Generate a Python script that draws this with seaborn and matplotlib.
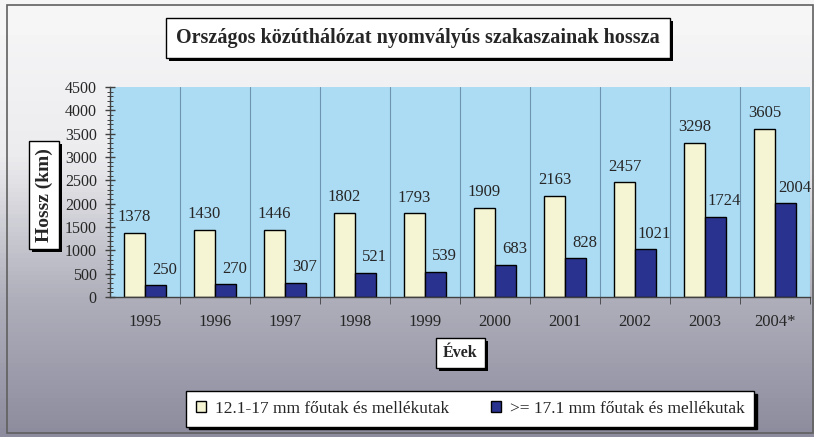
import numpy as np
import pandas as pd
import matplotlib
import matplotlib.pyplot as plt
from matplotlib.colors import LinearSegmentedColormap
from matplotlib.patches import Rectangle
from matplotlib.ticker import MultipleLocator
import seaborn as sns

# -----------------------------
# Data
# -----------------------------
years = ["1995", "1996", "1997", "1998", "1999", "2000", "2001", "2002", "2003", "2004*"]
sekely = [1378, 1430, 1446, 1802, 1793, 1909, 2163, 2457, 3298, 3605]
mely = [250, 270, 307, 521, 539, 683, 828, 1021, 1724, 2004]
series = ["12.1-17 mm főutak és mellékutak", ">= 17.1 mm főutak és mellékutak"]

title = "Országos közúthálózat nyomvályús szakaszainak hossza"
ylabel = "Hossz (km)"
xlabel = "Évek"

df = pd.DataFrame({
    "ev": years * 2,
    "hossz": sekely + mely,
    "kat": [series[0]] * len(years) + [series[1]] * len(years),
})

# -----------------------------
# Style
# -----------------------------
sns.set_style("white")
plt.rcParams["font.family"] = ["Liberation Serif", "DejaVu Serif"]

W, H = 814, 437
fig = plt.figure(figsize=(W / 100, H / 100), dpi=100)

# gradient background
bg = fig.add_axes([0, 0, 1, 1], zorder=-5)
grad = LinearSegmentedColormap.from_list("bg", ["#f6f6f7", "#ececef", "#b0b0bc", "#8c8c9e"])
vals = np.concatenate([np.zeros(8), np.linspace(0.05, 1, 92)])[:, None]
bg.imshow(vals, cmap=grad, aspect="auto", extent=[0, 1, 0, 1], vmin=0, vmax=1)
bg.set_axis_off()
fig.patches.append(Rectangle((7 / W, 4 / H), 806 / W, 428 / H, transform=fig.transFigure,
                             fill=False, ec="#606060", lw=1.2))

ax = fig.add_axes([110 / W, 1 - 297 / H, 700 / W, 210 / H])
ax.set_facecolor("#acdcf4")

sns.barplot(data=df, x="ev", y="hossz", hue="kat", palette=["#f5f5d3", "#29338f"],
            width=0.6, saturation=1, edgecolor="black", linewidth=1, ax=ax)

# value labels
for k, cont in enumerate(ax.containers):
    values = sekely if k == 0 else mely
    dx = 0 if k == 0 else 6.5
    for patch, v in zip(cont.patches, values):
        ax.annotate(str(v), (patch.get_x() + patch.get_width() / 2, v),
                    xytext=(dx, 8.5), textcoords="offset points",
                    ha="center", va="baseline", fontsize=12)

ax.set_xlim(-0.5, len(years) - 0.5)
ax.set_ylim(0, 4500)
ax.yaxis.set_major_locator(MultipleLocator(500))
ax.yaxis.set_minor_locator(MultipleLocator(100))
ax.set_xticks(np.arange(len(years)) + 0.5, minor=True)
ax.grid(which="minor", axis="x", color="#6d94b0", lw=0.8)
ax.grid(which="major", axis="both", visible=False)
ax.tick_params(axis="y", which="major", direction="inout", length=7, width=1,
               color="#404040", labelsize=11.5, pad=6, left=True)
ax.tick_params(axis="y", which="minor", direction="inout", length=4, width=0.7,
               color="#404040", left=True)
ax.tick_params(axis="x", which="major", length=0, labelsize=12, pad=12)
ax.tick_params(axis="x", which="minor", direction="out", length=5, color="#404040", bottom=True)
for s in ["top", "right"]:
    ax.spines[s].set_visible(False)
for s in ["left", "bottom"]:
    ax.spines[s].set_color("#404040")
    ax.spines[s].set_linewidth(1)
ax.set_xlabel("")
ax.set_ylabel("")

# boxed texts with drop shadow
boxes = []
boxes.append(fig.text(418 / W, 1 - 38 / H, title, fontsize=14.5, fontweight="bold",
                      ha="center", va="center",
                      bbox=dict(boxstyle="square,pad=0.5", fc="white", ec="black", lw=1)))
boxes.append(fig.text(44 / W, 1 - 195 / H, ylabel, fontsize=14, fontweight="bold",
                      ha="center", va="center", rotation=90,
                      bbox=dict(boxstyle="square,pad=0.35", fc="white", ec="black", lw=1)))
boxes.append(fig.text(460 / W, 1 - 353 / H, xlabel, fontsize=11.5, fontweight="bold",
                      ha="center", va="center",
                      bbox=dict(boxstyle="square,pad=0.45", fc="white", ec="black", lw=1)))

sns.move_legend(ax, "center", bbox_to_anchor=(470 / W, 1 - 409 / H),
                bbox_transform=fig.transFigure, ncol=2, title=None, frameon=True,
                fancybox=False, shadow={"color": "black", "alpha": 1},
                edgecolor="black", framealpha=1, fontsize=12.5,
                handlelength=0.6, handleheight=0.6, handletextpad=0.5,
                columnspacing=2.4, borderpad=0.55)
leg = ax.get_legend()
leg.get_frame().set_linewidth(1)

fig.canvas.draw()
for t in boxes:
    bb = t.get_bbox_patch().get_window_extent()
    fig.patches.append(Rectangle((bb.x0 + 3, bb.y0 - 3), bb.width, bb.height,
                                 transform=None, fc="black", ec="none", zorder=t.get_zorder() - 0.1))

fig.savefig("out.png", dpi=100)
